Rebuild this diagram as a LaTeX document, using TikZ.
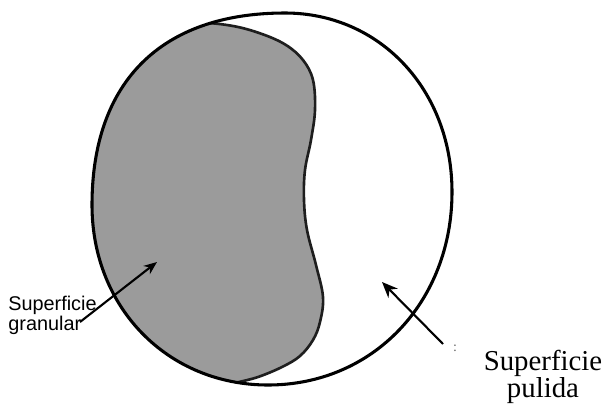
\documentclass[tikz,border=0pt]{standalone}
\usepackage{fontspec}
\setmainfont{Liberation Serif}
\newfontfamily\arialf{Liberation Sans}
\usetikzlibrary{arrows.meta}
\definecolor{beangray}{RGB}{155,155,155}
\definecolor{outlinedark}{RGB}{30,30,30}
\tikzset{
  outerline/.style={line width=1.75pt, black},
  beanline/.style={line width=1.5pt, outlinedark},
  pointer/.style={line width=1.2pt, black},
  sanslabel/.style={font=\arialf\fontsize{11.3}{11.3}\selectfont, align=left, inner sep=0pt},
  seriflabel/.style={font=\fontsize{16.4}{15.3}\selectfont, align=center, inner sep=0pt},
}
\newcommand{\outerpath}{(285,13) .. controls (380,13) and (452,90) .. (452,192) .. controls (452,302) and (373,385) .. (268,385) .. controls (168,385) and (92,308) .. (92,205) .. controls (92,82) and (161,13) .. cycle}
\begin{document}
\begin{tikzpicture}[x=0.02cm, y=-0.02cm]
\useasboundingbox (0,0) rectangle (603,410);
% bean (granular surface), clipped by outer outline
\begin{scope}
  \clip (285,13) .. controls (380,13) and (452,90) .. (452,192) .. controls (452,302) and (373,385) .. (268,385) .. controls (168,385) and (92,308) .. (92,205) .. controls (92,82) and (161,13) .. cycle;
  \fill[beangray] (60,5) -- (165,5) -- plot[smooth, tension=0.6] coordinates {(168,28) (200,23) (233,26) (262,34) (286,45) (303,60) (313,80) (315,110) (311,140) (305,170) (304,200) (307,230) (316,265) (323,297) (320,322) (313,340) (300,356) (282,367) (258,377) (235,383) (200,392)} -- (60,400) -- cycle;
  \draw[beanline] plot[smooth, tension=0.6] coordinates {(168,28) (200,23) (233,26) (262,34) (286,45) (303,60) (313,80) (315,110) (311,140) (305,170) (304,200) (307,230) (316,265) (323,297) (320,322) (313,340) (300,356) (282,367) (258,377) (235,383) (200,392)};
\end{scope}
% outer outline (polished surface)
\draw[outerline] (285,13) .. controls (380,13) and (452,90) .. (452,192) .. controls (452,302) and (373,385) .. (268,385) .. controls (168,385) and (92,308) .. (92,205) .. controls (92,82) and (161,13) .. cycle;
% labels
\node[sanslabel, anchor=base west] (gran) at (8,330) {Superficie\\granular};
\node[seriflabel, anchor=base] (pul) at (543,397) {Superficie\\pulida};
\node[font=\fontsize{8}{8}\selectfont, text=black!60, inner sep=0pt] (mark) at (455,348) {:};
% pointers
\coordinate (gtail) at (80,322);
\coordinate (gtip) at (157,262);
\coordinate (ptail) at (443,344);
\coordinate (ptip) at (382,282);
\draw[pointer, -{Stealth[length=7.5pt, width=6pt]}] (gtail) -- (gtip);
\draw[pointer, -{Stealth[length=9pt, width=7.5pt]}] (ptail) -- (ptip);
\end{tikzpicture}
\end{document}
